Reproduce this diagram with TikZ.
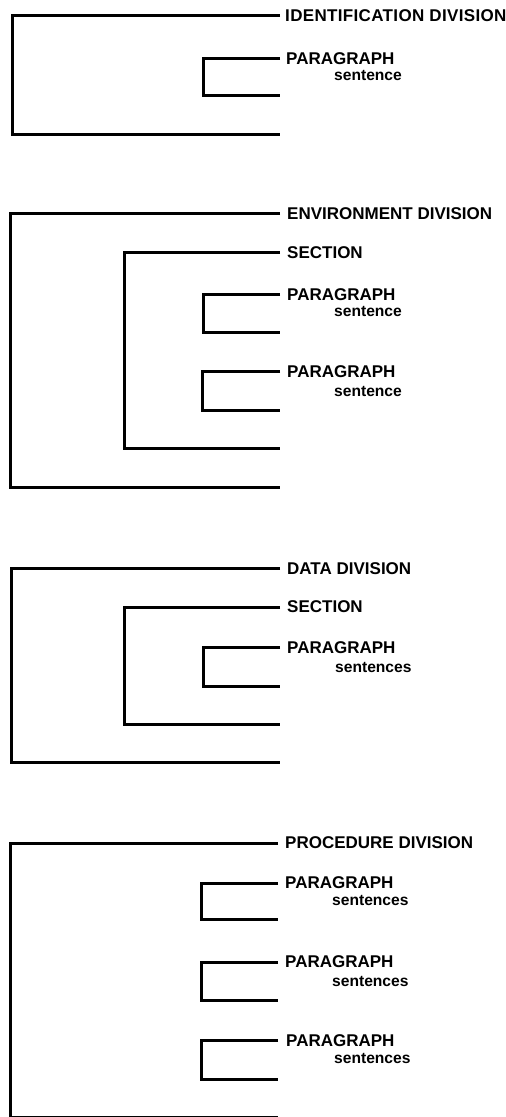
\documentclass[tikz,border=0pt]{standalone}
\usepackage{fontspec}
\setmainfont{Liberation Sans}
\begin{document}
\begin{tikzpicture}[x=1pt,y=-1pt,
  rule/.style={line width=3pt, line join=miter},
  head/.style={font=\bfseries\fontsize{17}{17}\selectfont, inner sep=0pt, anchor=west},
  sub/.style={font=\bfseries\fontsize{15.6}{16}\selectfont, inner sep=0pt, anchor=base west}]
\useasboundingbox (0,0) rectangle (506,1117);

% ---------- IDENTIFICATION DIVISION ----------
\coordinate (i-top) at (280,15);
\coordinate (i-bot) at (280,134);
\coordinate (i-p-top) at (280,58);
\coordinate (i-p-bot) at (280,95);
\node[head] (i-lbl) at (285,16) {\addfontfeatures{LetterSpace=2}IDENTIFICATION DIVISION};
\node[head] (i-p-lbl) at (286,59) {PARAGRAPH};
\node[sub] (i-p-sub) at (334,80) {sentence};
\draw[rule] (i-top) -- (12,15) |- (i-bot);
\draw[rule] (i-p-top) -- (203,58) |- (i-p-bot);

% ---------- ENVIRONMENT DIVISION ----------
\coordinate (e-top) at (280,213);
\coordinate (e-bot) at (280,487);
\coordinate (e-s-top) at (280,252);
\coordinate (e-s-bot) at (280,448);
\coordinate (e-p1-top) at (280,294);
\coordinate (e-p1-bot) at (280,332);
\coordinate (e-p2-top) at (280,371);
\coordinate (e-p2-bot) at (280,410);
\node[head] (e-lbl) at (287,214) {ENVIRONMENT DIVISION};
\node[head] (e-s-lbl) at (287,253) {SECTION};
\node[head] (e-p1-lbl) at (287,295) {PARAGRAPH};
\node[sub] (e-p1-sub) at (334,316) {sentence};
\node[head] (e-p2-lbl) at (287,372) {PARAGRAPH};
\node[sub] (e-p2-sub) at (334,396) {sentence};
\draw[rule] (e-top) -- (10,213) |- (e-bot);
\draw[rule] (e-s-top) -- (124,252) |- (e-s-bot);
\draw[rule] (e-p1-top) -- (203,294) |- (e-p1-bot);
\draw[rule] (e-p2-top) -- (202,371) |- (e-p2-bot);

% ---------- DATA DIVISION ----------
\coordinate (d-top) at (280,568);
\coordinate (d-bot) at (280,762);
\coordinate (d-s-top) at (280,607);
\coordinate (d-s-bot) at (280,724);
\coordinate (d-p-top) at (280,647);
\coordinate (d-p-bot) at (280,686);
\node[head] (d-lbl) at (287,569) {DATA DIVISION};
\node[head] (d-s-lbl) at (287,607) {SECTION};
\node[head] (d-p-lbl) at (287,648) {PARAGRAPH};
\node[sub] (d-p-sub) at (335,672) {sentences};
\draw[rule] (d-top) -- (11,568) |- (d-bot);
\draw[rule] (d-s-top) -- (124,607) |- (d-s-bot);
\draw[rule] (d-p-top) -- (203,647) |- (d-p-bot);

% ---------- PROCEDURE DIVISION ----------
\coordinate (r-top) at (278,843);
\coordinate (r-bot) at (278,1117.8);
\coordinate (r-p1-top) at (278,883);
\coordinate (r-p1-bot) at (278,919);
\coordinate (r-p2-top) at (278,962);
\coordinate (r-p2-bot) at (278,1000);
\coordinate (r-p3-top) at (278,1040);
\coordinate (r-p3-bot) at (278,1079);
\node[head] (r-lbl) at (285,843) {PROCEDURE DIVISION};
\node[head] (r-p1-lbl) at (285,883) {PARAGRAPH};
\node[sub] (r-p1-sub) at (332,905) {sentences};
\node[head] (r-p2-lbl) at (285,962) {PARAGRAPH};
\node[sub] (r-p2-sub) at (332,986) {sentences};
\node[head] (r-p3-lbl) at (286,1041) {PARAGRAPH};
\node[sub] (r-p3-sub) at (334,1063) {sentences};
\draw[rule] (r-top) -- (10,843) |- (r-bot);
\draw[rule] (r-p1-top) -- (201,883) |- (r-p1-bot);
\draw[rule] (r-p2-top) -- (201,962) |- (r-p2-bot);
\draw[rule] (r-p3-top) -- (201,1040) |- (r-p3-bot);
\end{tikzpicture}
\end{document}
